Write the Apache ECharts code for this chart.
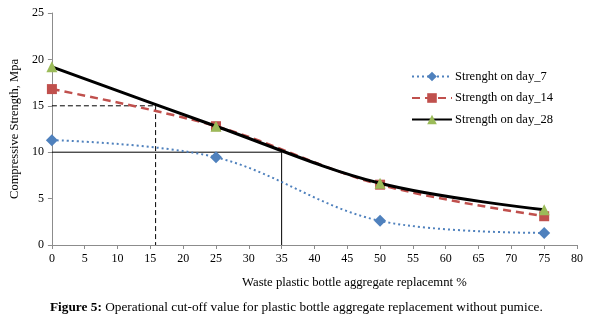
<!DOCTYPE html>
<html><head><meta charset="utf-8">
<script src="https://cdn.jsdelivr.net/npm/echarts@6/dist/echarts.min.js"></script>
<style>html,body{margin:0;padding:0;background:#fff}#c{width:602px;height:329px}</style>
</head><body><div id="c"></div>
<script>
var xValues = [0, 25, 50, 75];
var day7 = [11.3, 9.45, 2.6, 1.3];
var day14 = [16.8, 12.8, 6.5, 3.1];
var day28 = [19.2, 12.8, 6.65, 3.8];
var names = ['Strenght on day_7', 'Strength on day_14', 'Strength on day_28'];
var cut15 = [[0, 15], [15.8, 15], [15.8, 0]];
var cut10 = [[0, 10], [35, 10], [35, 0]];
var xTicks = [0, 80, 5];
var yTicks = [0, 25, 5];

function pairs(vals) { return xValues.map(function (x, i) { return [x, vals[i]]; }); }
var font = 'Liberation Serif';
var chart = echarts.init(document.getElementById('c'));
chart.setOption({
  animation: false,
  textStyle: { fontFamily: font },
  grid: { left: 50, right: 25, top: 13, bottom: 84 },
  legend: {
    data: names, orient: 'vertical', left: 406, top: 65,
    itemWidth: 40, itemHeight: 12, itemGap: 8.5,
    textStyle: { fontFamily: font, fontSize: 12.5, color: '#000', padding: [0, 0, 0, -2] }
  },
  xAxis: {
    type: 'value', min: xTicks[0], max: xTicks[1], interval: xTicks[2],
    name: 'Waste plastic bottle aggregate replacemnt %', nameLocation: 'middle', nameGap: 31,
    nameTextStyle: { fontFamily: font, fontSize: 12.7, color: '#000', padding: [0, 0, 0, 80] },
    axisLine: { lineStyle: { color: '#8c8c8c' } },
    axisTick: { lineStyle: { color: '#8c8c8c' }, length: 4 },
    axisLabel: { color: '#000', fontSize: 12, fontFamily: font },
    splitLine: { show: false }
  },
  yAxis: {
    type: 'value', min: yTicks[0], max: yTicks[1], interval: yTicks[2],
    name: 'Compressive Strength, Mpa', nameLocation: 'middle', nameGap: 30, nameRotate: 90,
    nameTextStyle: { fontFamily: font, fontSize: 12.5, color: '#000' },
    axisLine: { show: true, lineStyle: { color: '#8c8c8c' } },
    axisTick: { show: true, lineStyle: { color: '#8c8c8c' }, length: 4 },
    axisLabel: { color: '#000', fontSize: 12, fontFamily: font },
    splitLine: { show: false }
  },
  series: [
    { type: 'line', data: cut15, symbol: 'none', silent: true, z: 1,
      lineStyle: { color: '#000', width: 1, type: [5, 3] } },
    { type: 'line', data: cut10, symbol: 'none', silent: true, z: 1,
      lineStyle: { color: '#000', width: 1 } },
    { name: names[0], type: 'line', data: pairs(day7), smooth: 0.35,
      symbol: 'diamond', symbolSize: 12, itemStyle: { color: '#4F81BD' },
      lineStyle: { color: '#4F81BD', width: 2, type: [2, 3] }, z: 3 },
    { name: names[1], type: 'line', data: pairs(day14), smooth: 0.35,
      symbol: 'rect', symbolSize: 10, itemStyle: { color: '#C0504D' },
      lineStyle: { color: '#C0504D', width: 2.5, type: [8, 5] }, z: 4 },
    { name: names[2], type: 'line', data: pairs(day28), smooth: 0.35,
      symbol: 'triangle', symbolSize: 11, itemStyle: { color: '#9BBB59' },
      lineStyle: { color: '#000', width: 3 }, z: 5 }
  ],
  graphic: [{
    type: 'text', left: 50, top: 301,
    style: {
      text: '{b|Figure 5:} Operational cut-off value for plastic bottle aggregate replacement without pumice.',
      font: '13.3px "Liberation Serif"', fill: '#000',
      rich: { b: { fontWeight: 'bold', fontFamily: font, fontSize: 13.3 } }
    }
  }]
});
</script></body></html>
